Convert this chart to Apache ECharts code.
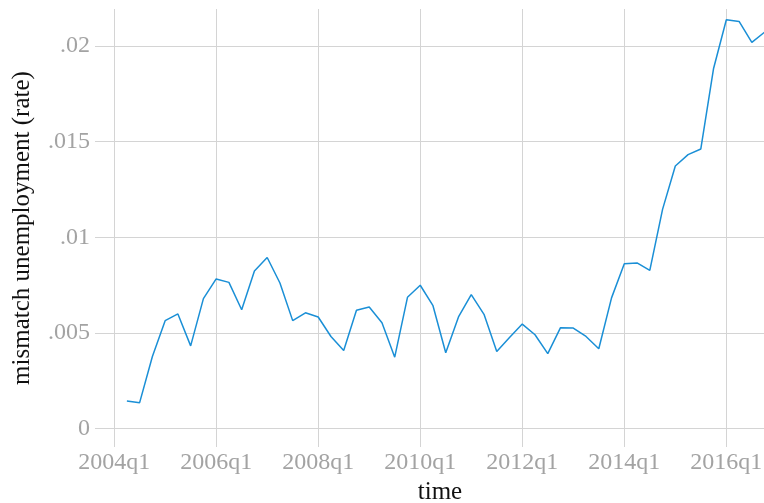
<!DOCTYPE html>
<html>
<head>
<meta charset="utf-8">
<script src="https://cdn.jsdelivr.net/npm/echarts@6/dist/echarts.min.js"></script>
<style>
  html, body { margin: 0; padding: 0; background: #fff; }
  #chart { width: 764px; height: 503px; }
</style>
</head>
<body>
<div id="chart"></div>
<script>
// quarters 2004q2 .. 2016q4
var quarters = [
  '2004q2','2004q3','2004q4','2005q1','2005q2','2005q3','2005q4',
  '2006q1','2006q2','2006q3','2006q4','2007q1','2007q2','2007q3','2007q4',
  '2008q1','2008q2','2008q3','2008q4','2009q1','2009q2','2009q3','2009q4',
  '2010q1','2010q2','2010q3','2010q4','2011q1','2011q2','2011q3','2011q4',
  '2012q1','2012q2','2012q3','2012q4','2013q1','2013q2','2013q3','2013q4',
  '2014q1','2014q2','2014q3','2014q4','2015q1','2015q2','2015q3','2015q4',
  '2016q1','2016q2','2016q3','2016q4'
];
var mismatch = [
  0.00144, 0.00135, 0.00376, 0.00564, 0.00599, 0.00432, 0.00679,
  0.00782, 0.00764, 0.00621, 0.00824, 0.00894, 0.00761, 0.00564, 0.00605,
  0.00583, 0.00481, 0.00408, 0.00618, 0.00635, 0.00553, 0.00373, 0.00686,
  0.00749, 0.00642, 0.00396, 0.00583, 0.00700, 0.00597, 0.00403, 0.00476,
  0.00546, 0.00490, 0.00391, 0.00527, 0.00525, 0.00481, 0.00417, 0.00683,
  0.00861, 0.00866, 0.00827, 0.01146, 0.01373, 0.01432, 0.01462, 0.01883,
  0.02138, 0.02129, 0.02019, 0.02073
];
var xTickLabels = ['2004q1','2006q1','2008q1','2010q1','2012q1','2014q1','2016q1'];
var yTicks = [0, 0.005, 0.01, 0.015, 0.02];

// quarter string -> index, 2004q1 = 0
function qIndex(s) {
  return (parseInt(s.slice(0, 4), 10) - 2004) * 4 + parseInt(s.slice(5), 10) - 1;
}
function qLabel(t) {
  return (2004 + Math.floor(t / 4)) + 'q' + (t % 4 + 1);
}

var xTicks = xTickLabels.map(qIndex);
var seriesData = quarters.map(function (q, i) {
  return [qIndex(q), mismatch[i]];
});

var font = 'Liberation Serif';
var gridColor = '#d4d4d4';

var myChart = echarts.init(document.getElementById('chart'));
var option = {
  backgroundColor: '#fff',
  animation: false,
  // plot area runs a little past the right edge of the picture
  grid: { left: 95, width: 690, top: 9, bottom: 56, containLabel: false, outerBoundsMode: 'none' },
  xAxis: {
    type: 'value',
    min: -1.5,
    max: 52.6,
    name: 'time',
    nameLocation: 'middle',
    nameGap: 32,
    nameTextStyle: { color: '#111', fontFamily: font, fontSize: 25 },
    axisLine: { show: false },
    axisTick: { show: false, customValues: xTicks },
    axisLabel: {
      customValues: xTicks,
      formatter: function (v) { return qLabel(v); },
      color: '#a3a3a3', fontFamily: font, fontSize: 24, margin: 4
    },
    splitLine: { show: true, lineStyle: { color: gridColor, width: 1 } }
  },
  yAxis: {
    type: 'value',
    min: -0.00097,
    max: 0.02194,
    name: 'mismatch unemployment (rate)',
    nameLocation: 'middle',
    nameGap: 60,
    nameTextStyle: { color: '#111', fontFamily: font, fontSize: 25 },
    axisLine: { show: false },
    axisTick: { show: false, customValues: yTicks },
    axisLabel: {
      customValues: yTicks,
      formatter: function (v) {
        if (v === 0) return '0';
        return String(+v.toFixed(3)).replace(/^0/, '');
      },
      color: '#a3a3a3', fontFamily: font, fontSize: 24, margin: 5
    },
    splitLine: { show: true, lineStyle: { color: gridColor, width: 1 } }
  },
  series: [{
    type: 'line',
    data: seriesData,
    symbol: 'none',
    clip: false,
    lineStyle: { color: '#1a8fd6', width: 1.5 }
  }]
};
myChart.setOption(option);
</script>
</body>
</html>
